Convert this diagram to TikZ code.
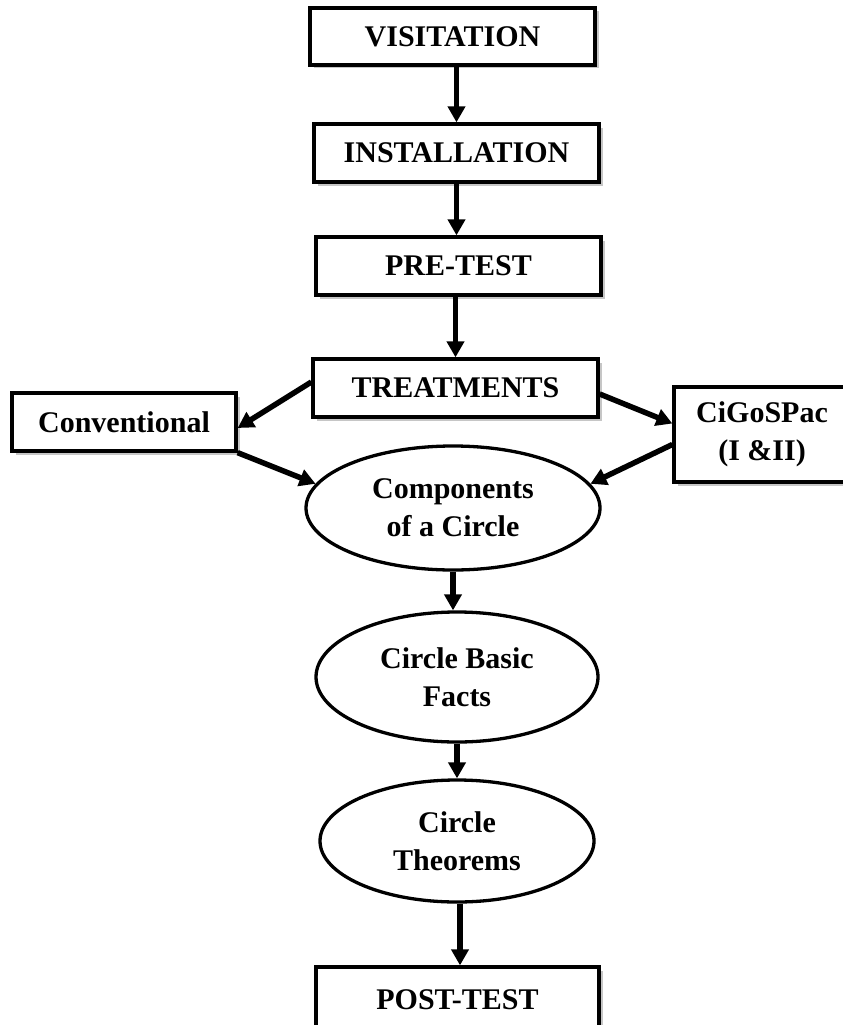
\documentclass[tikz,border=0pt]{standalone}
\usepackage{fontspec}
\setmainfont{Liberation Serif}
\usetikzlibrary{arrows.meta,shapes.geometric,shadows}
\begin{document}
\begin{tikzpicture}[x=1pt,y=-1pt,
  every node/.style={font=\fontsize{30}{38}\selectfont\bfseries, align=center, inner sep=0pt},
  stagebox/.style={rectangle, draw, line width=3.3pt, fill=white,
    general shadow={fill=gray!45, shadow xshift=3.5pt, shadow yshift=-3.5pt}},
  topic/.style={ellipse, draw, line width=3.3pt, fill=white},
  flow/.style={line width=5.5pt, -{Triangle[length=16pt,width=17pt]}}
]
\clip (0,0) rectangle (843,1025);
\fill[white] (0,0) rectangle (843,1025);
\node[stagebox, minimum width=285pt, minimum height=57pt] (vis) at (452.5,36.5) {VISITATION};
\node[stagebox, minimum width=285pt, minimum height=58pt] (inst) at (456.5,153) {INSTALLATION};
\node[stagebox, minimum width=285pt, minimum height=58pt] (pre) at (458.5,266) {PRE-TEST};
\node[stagebox, minimum width=285pt, minimum height=58pt] (treat) at (455.5,388) {TREATMENTS};
\node[stagebox, minimum width=224pt, minimum height=58pt] (conv) at (124,422) {Conventional};
\node[stagebox, minimum width=176pt, minimum height=95pt] (cigo) at (762,434.5) {CiGoSPac\\(I \&II)};
\node[stagebox, minimum width=283pt, minimum height=66pt] (post) at (457.5,1000) {POST-TEST};
\node[topic, minimum width=294pt, minimum height=124pt] (comp) at (453,508) {Components\\of a Circle};
\node[topic, minimum width=282pt, minimum height=130pt] (basic) at (457,677) {Circle Basic\\Facts};
\node[topic, minimum width=274pt, minimum height=122pt] (theo) at (457,841) {Circle\\Theorems};

\draw[flow] (inst.north |- vis.south) -- (inst.north);
\draw[flow] (inst.south) -- (inst.south |- pre.north);
\draw[flow] (treat.north |- pre.south) -- (treat.north);
\draw[flow] ([yshift=6pt]treat.west) -- ([yshift=-6pt]conv.east);
\draw[flow] ([yshift=-6pt]treat.east) -- ([yshift=11pt]cigo.west);
\draw[flow] (conv.south east) -- (comp.170);
\draw[flow] ([yshift=-10pt]cigo.west) -- (comp.10);
\draw[flow] (comp.south) -- (comp.south |- basic.north);
\draw[flow] (basic.south) -- (theo.north);
\draw[flow] ([xshift=3pt]theo.south) -- ([xshift=3pt]theo.south |- post.north);
\end{tikzpicture}
\end{document}
